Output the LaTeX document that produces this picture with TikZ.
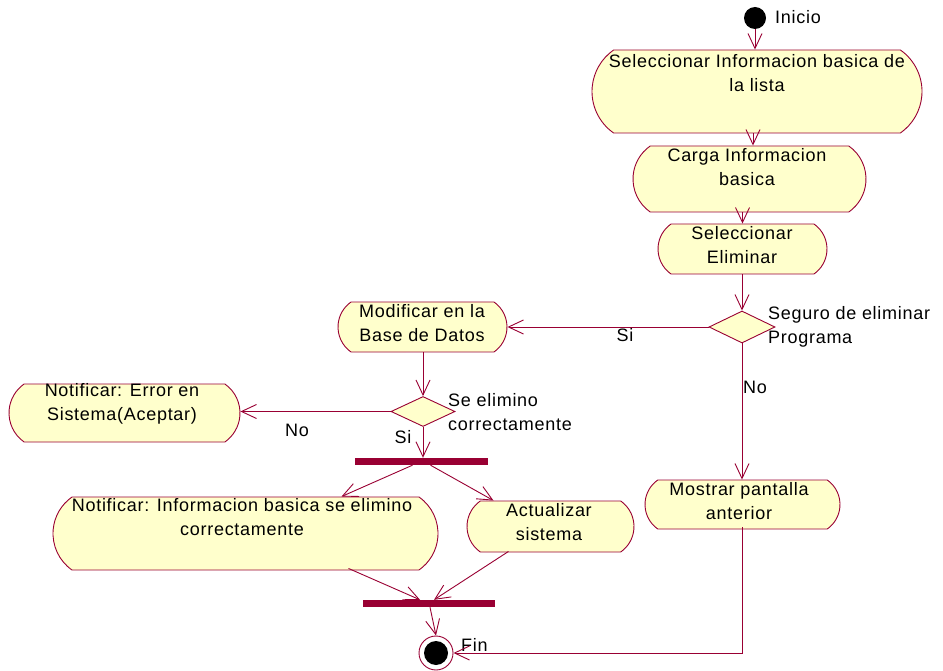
\documentclass[tikz,border=0pt]{standalone}
\usepackage{fontspec}
\setmainfont[LetterSpace=4]{Liberation Sans}
\usetikzlibrary{arrows.meta,shapes.misc,shapes.geometric}
\definecolor{umlfill}{RGB}{255,255,204}
\definecolor{umlline}{RGB}{153,0,51}
\tikzset{
  act/.style={rounded rectangle, rounded rectangle arc length=110, draw=umlline, fill=umlfill, line width=0.9pt, inner sep=0pt},
  dec/.style={diamond, draw=umlline, fill=umlfill, line width=0.9pt, inner sep=0pt, minimum width=66pt, minimum height=32pt},
  bar/.style={rectangle, fill=umlline, draw=none, inner sep=0pt, minimum height=7pt},
  txt/.style={align=center, font=\fontsize{18}{24}\selectfont, inner sep=0pt, text=black},
  lbl/.style={font=\fontsize{18}{24}\selectfont, inner sep=0pt, text=black},
  flow/.style={draw=umlline, line width=0.9pt, -{Straight Barb[length=15pt,width=14pt,line width=0.9pt]}},
}
\begin{document}
\begin{tikzpicture}[x=1pt,y=-1pt]
\useasboundingbox (0,0) rectangle (943,671);
\fill[white] (0,0) rectangle (943,671);
% start / end
\node[circle, fill=black, inner sep=0pt, minimum size=22pt] (start) at (755,18) {};
\node[lbl, anchor=west] (tstart) at (775,17) {Inicio};
\node[circle, draw=umlline, fill=white, line width=0.9pt, inner sep=0pt, minimum size=34pt] (end) at (436,653) {};
\node[circle, fill=black, inner sep=0pt, minimum size=24pt] (endin) at (436,653) {};
\node[lbl, anchor=west] (tend) at (461,645) {Fin};
% activities
\node[act, minimum width=330pt, minimum height=83pt] (n1) at (757,91.5) {};
\node[txt] (t1) at (757,73) {Seleccionar Informacion basica de\\la lista};
\node[act, minimum width=233pt, minimum height=66pt] (n2) at (749.5,179) {};
\node[txt] (t2) at (747,167) {Carga Informacion\\basica};
\node[act, minimum width=169pt, minimum height=50pt] (n3) at (742.5,249) {};
\node[txt] (t3) at (742,245) {Seleccionar\\Eliminar};
\node[dec] (d1) at (742,327) {};
\node[lbl, anchor=west, align=left] (td1) at (768,327) {Seguro de eliminar\\Programa};
\node[act, minimum width=169pt, minimum height=50pt] (n4) at (422.5,327) {};
\node[txt] (t4) at (422,323) {Modificar en la\\Base de Datos};
\node[dec, minimum width=64pt, minimum height=30pt] (d2) at (423,411.5) {};
\node[lbl, anchor=west, align=left] (td2) at (448,412) {Se elimino\\correctamente};
\node[act, minimum width=231pt, minimum height=58pt] (n5) at (124.5,413) {};
\node[txt] (t5) at (122,404) {Notificar: Error en\\Sistema(Aceptar)};
\node[bar, minimum width=133pt] (f1) at (421.5,461.5) {};
\node[act, minimum width=385pt, minimum height=73pt] (n6) at (245.5,533.5) {};
\node[txt] (t6) at (242,517) {Notificar: Informacion basica se elimino\\correctamente};
\node[act, minimum width=167pt, minimum height=51pt] (n7) at (550.5,526.5) {};
\node[txt] (t7) at (549,522) {Actualizar\\sistema};
\node[act, minimum width=195pt, minimum height=49pt] (n8) at (742.5,504.5) {};
\node[txt] (t8) at (739,501) {Mostrar pantalla\\anterior};
\node[bar, minimum width=132pt] (f2) at (429,603.5) {};
% labels
\node[lbl] (lsi1) at (625,335) {Si};
\node[lbl] (lno1) at (755,387) {No};
\node[lbl] (lno2) at (297,430) {No};
\node[lbl] (lsi2) at (403,437) {Si};
% connectors
\draw[flow] (start.south) -- (start.south |- n1.north);
\draw[flow] (n1.south -| 753,0) -- (n2.north -| 753,0);
\draw[flow] (n2.south -| n3.north) -- (n3.north);
\draw[flow] (n3.south -| d1.north) -- (d1.north);
\draw[flow] (d1.west) -- (n4.east);
\draw[flow] (d1.south) -- (d1.south |- n8.north);
\draw[flow] (n4.south -| d2.north) -- (d2.north);
\draw[flow] (d2.west) -- (d2.west -| n5.east);
\draw[flow] (d2.south) -- (d2.south |- f1.north);
\draw[flow] ([xshift=-9pt]f1.south) -- ([xshift=96pt]n6.north);
\draw[flow] ([xshift=9pt]f1.south) -- ([xshift=-57pt]n7.north);
\draw[flow] ([xshift=103pt,yshift=2pt]n6.south) -- ([xshift=-9pt]f2.north);
\draw[flow] ([xshift=-42pt,yshift=1pt]n7.south) -- ([xshift=5pt]f2.north);
\draw[flow] ([xshift=1pt]f2.south) -- (end.north);
\draw[flow] ([yshift=2pt]n8.south) |- (end.east);
\end{tikzpicture}
\end{document}
